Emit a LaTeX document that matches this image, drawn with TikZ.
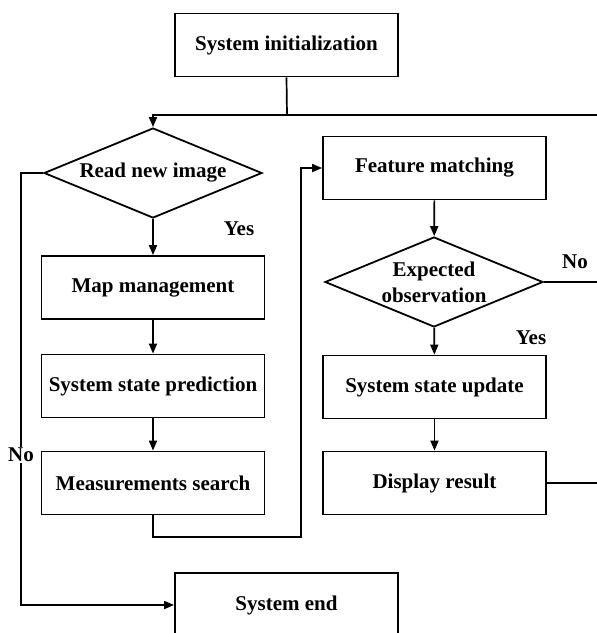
\documentclass[tikz,border=0pt]{standalone}
\usepackage{fontspec}
\setmainfont{Liberation Serif}
\usetikzlibrary{shapes.geometric,arrows.meta}
\begin{document}
\begin{tikzpicture}[x=1pt,y=-1pt,
  lbl/.style={font=\fontsize{21}{26}\selectfont\bfseries, align=center, inner sep=1pt},
  box/.style={draw, line width=1.8pt, minimum width=223pt, minimum height=63pt, inner sep=0pt, lbl},
  dia/.style={draw, diamond, line width=1.8pt, minimum width=218pt, minimum height=90pt, inner sep=0pt},
  conn/.style={line width=1.7pt},
  arr/.style={conn, -{Triangle[length=10pt,width=8pt]}},
  tag/.style={lbl, fill=white}]
\useasboundingbox (0,0) rectangle (597,633);
\clip (0,0) rectangle (597,633);
% nodes
\node[box] (init) at (286.5,45) {System initialization};
\node[dia] (read) at (153,173) {};
\node[lbl] (readt) at (read.center) {Read new image};
\node[box] (map) at (153,287.5) {Map management};
\node[box] (pred) at (153,386) {System state prediction};
\node[box] (meas) at (153,483) {Measurements search};
\node[box] (feat) at (434.5,168) {Feature matching};
\node[dia] (exp) at (434,282) {};
\node[lbl] (expt) at (exp.center) {Expected\\observation};
\node[box] (upd) at (434.5,387) {System state update};
\node[box] (disp) at (434.5,483) {Display result};
\node[box, minimum height=64pt] (end) at (286.5,605) {System end};
% helper coordinates
\coordinate (j1) at (287,115);
\coordinate (rtop) at (600,115);
\coordinate (nl) at (21,173);
\coordinate (ml) at (153,537);
\coordinate (mr) at (301,537);
\coordinate (rexp) at (600,282);
\coordinate (rdisp) at (600,483);
% connectors
\draw[conn] (init.south) -- (j1);
\draw[arr] (rtop) -| (read.north);
\draw[arr] (read.west) -- (nl) |- (end.west);
\node[tag] (no1) at (21,455) {No};
\draw[arr] (read.south) -- (map.north);
\node[lbl] (yes1) at (239,229) {Yes};
\draw[arr] (map) -- (pred);
\draw[arr] (pred) -- (meas);
\draw[arr] (meas.south) -- (ml) -- (mr) |- (feat.west);
\draw[arr] (feat) -- (exp);
\draw[arr] (exp) -- (upd);
\node[lbl] (yes2) at (531,338) {Yes};
\draw[arr] (upd) -- (disp);
\draw[conn] (exp.east) -- (rexp);
\node[lbl] (no2) at (575,262) {No};
\draw[conn] (disp.east) -- (rdisp);
\end{tikzpicture}
\end{document}
